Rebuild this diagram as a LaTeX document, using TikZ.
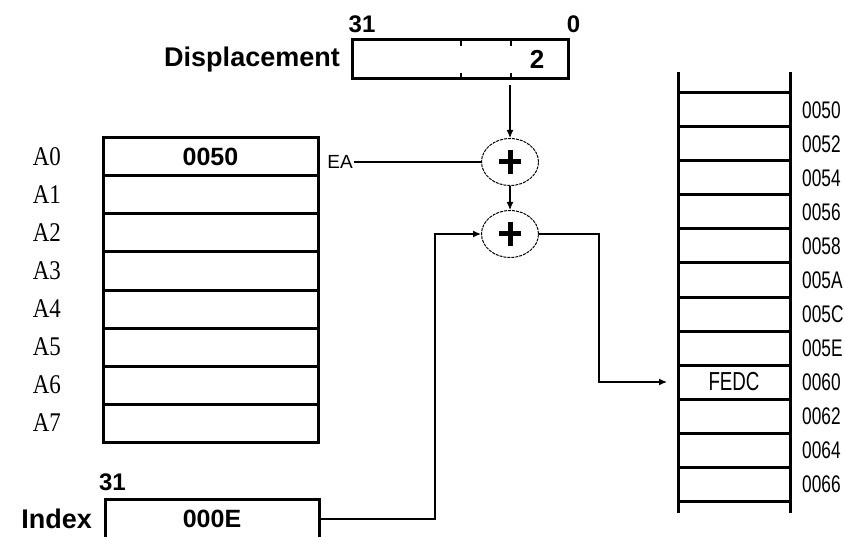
\documentclass[tikz,border=0pt]{standalone}
\usepackage{fontspec}
\setmainfont{Liberation Sans}
\newfontfamily\narrowfont[FakeStretch=0.72]{Liberation Sans}
\newfontfamily\regfont[FakeStretch=0.85]{Liberation Serif}
\usetikzlibrary{shapes.geometric, arrows.meta, positioning}

\begin{document}
\begin{tikzpicture}[
        x=1pt, y=1pt,
        regbox/.style={rectangle, draw, line width=3pt, outer sep=0pt, inner sep=0pt, minimum width=215pt, minimum height=38pt, font=\fontsize{25}{27}\selectfont\bfseries},
        memcell/.style={rectangle, draw, line width=3pt, outer sep=0pt, inner sep=0pt, minimum width=112pt, minimum height=34pt, font=\narrowfont\fontsize{26}{28}\selectfont},
        title/.style={inner sep=2pt, font=\fontsize{27}{30}\selectfont\bfseries},
        bitno/.style={inner sep=0pt, font=\fontsize{24}{26}\selectfont\bfseries},
        reglabel/.style={inner sep=0pt, font=\regfont\fontsize{27}{29}\selectfont},
        addr/.style={inner sep=0pt, font=\narrowfont\fontsize{24}{26}\selectfont},
        adder/.style={ellipse, draw, line width=1pt, dash pattern=on 3pt off 1pt, minimum width=57pt, minimum height=47pt, inner sep=0pt,
            path picture={\draw[solid, line width=5pt] (path picture bounding box.center) +(-11pt,0) -- +(11pt,0) +(0,-12pt) -- +(0,12pt);}},
        wire/.style={line width=1.2pt},
        arrow/.style={-{Latex[length=8pt, width=7pt]}, line width=1.2pt}
    ]
        \useasboundingbox (0,0) rectangle (845,536);

        % displacement field
        \node[regbox, minimum width=216pt, minimum height=39pt] (disp) at (460,476.5) {};
        \node[bitno, font=\fontsize{26}{28}\selectfont\bfseries] at (537,476.5) {2};
        \node[title, left=10pt of disp] (displbl) {Displacement};
        \node[bitno] (dmsb) at (362,511.5) {31};
        \node[bitno] (dlsb) at (573.5,511.5) {0};
        \draw[line width=2pt] (461,496) -- (461,490) (511,496) -- (511,490);
        \draw[line width=2pt] (461,457) -- (461,463) (511,457) -- (511,463);

        % address registers
        \node[regbox] (a0) at (210.5,379) {0050};
        \node[regbox, below=0pt of a0] (a1) {};
        \node[regbox, below=0pt of a1] (a2) {};
        \node[regbox, below=0pt of a2] (a3) {};
        \node[regbox, below=0pt of a3] (a4) {};
        \node[regbox, below=0pt of a4] (a5) {};
        \node[regbox, below=0pt of a5] (a6) {};
        \node[regbox, below=0pt of a6] (a7) {};
        \node[reglabel, left=42pt of a0] {A0};
        \node[reglabel, left=42pt of a1] {A1};
        \node[reglabel, left=42pt of a2] {A2};
        \node[reglabel, left=42pt of a3] {A3};
        \node[reglabel, left=42pt of a4] {A4};
        \node[reglabel, left=42pt of a5] {A5};
        \node[reglabel, left=42pt of a6] {A6};
        \node[reglabel, left=42pt of a7] {A7};

        % index register
        \node[regbox, minimum width=214pt, minimum height=40pt] (idx) at (212,17) {000E};
        \node[title, left=11pt of idx] (idxlbl) {Index};
        \node[bitno] (imsb) at (112.5,54) {31};

        % adders
        \node[adder] (add1) at (510,374) {};
        \node[adder] (add2) at (510,302) {};
        \node[inner sep=1pt, font=\fontsize{19}{21}\selectfont] (ea) at (340,374) {EA};

        % memory
        \node[memcell] (m0) at (734,426) {};
        \node[memcell, below=0pt of m0] (m1) {};
        \node[memcell, below=0pt of m1] (m2) {};
        \node[memcell, below=0pt of m2] (m3) {};
        \node[memcell, below=0pt of m3] (m4) {};
        \node[memcell, below=0pt of m4] (m5) {};
        \node[memcell, below=0pt of m5] (m6) {};
        \node[memcell, below=0pt of m6] (m7) {};
        \node[memcell, below=0pt of m7] (m8) {FEDC};
        \node[memcell, below=0pt of m8] (m9) {};
        \node[memcell, below=0pt of m9] (m10) {};
        \node[memcell, below=0pt of m10] (m11) {};
        \draw[line width=3pt] (m0.north west) -- ++(0,21) (m0.north east) -- ++(0,21);
        \draw[line width=3pt] (m11.south west) -- ++(0,-12) (m11.south east) -- ++(0,-12);
        \node[addr, right=12pt of m0] {0050};
        \node[addr, right=12pt of m1] {0052};
        \node[addr, right=12pt of m2] {0054};
        \node[addr, right=12pt of m3] {0056};
        \node[addr, right=12pt of m4] {0058};
        \node[addr, right=12pt of m5] {005A};
        \node[addr, right=12pt of m6] {005C};
        \node[addr, right=12pt of m7] {005E};
        \node[addr, right=12pt of m8] {0060};
        \node[addr, right=12pt of m9] {0062};
        \node[addr, right=12pt of m10] {0064};
        \node[addr, right=12pt of m11] {0066};

        \coordinate (up) at (435,0);
        \coordinate (down) at (599,0);

        \draw[arrow, shorten <=6pt] (add1 |- disp.south) -- (add1.north);
        \draw[arrow] (add1.south) -- (add2.north);
        \draw[wire] (ea) -- (add1.west);
        \draw[arrow] (idx.east) -| (up |- add2) -- (add2.west);
        \draw[arrow, shorten >=11pt] (add2.east) -| (down |- m8) -- (m8.west);
    \end{tikzpicture}
\end{document}
